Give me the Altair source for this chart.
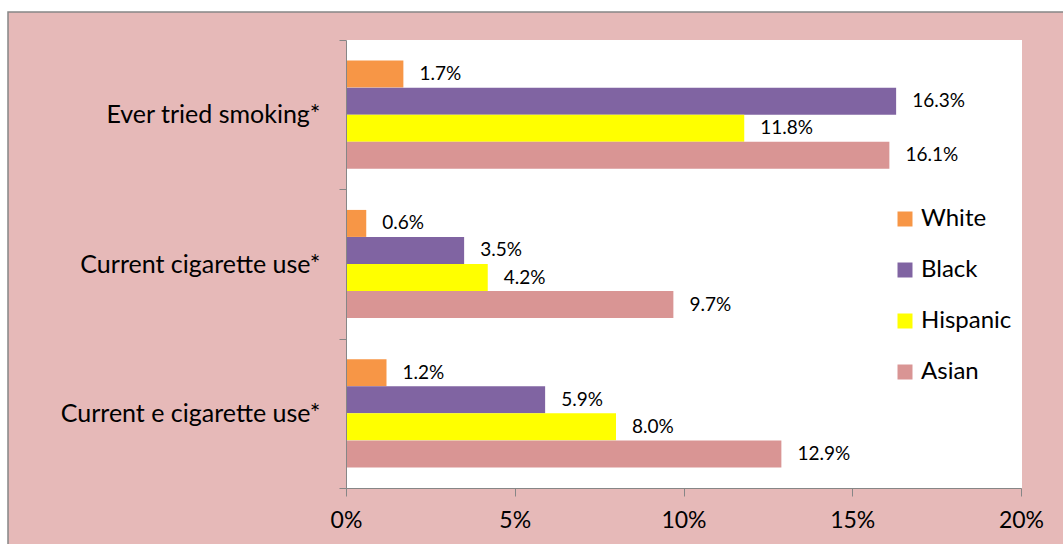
import altair as alt
import pandas as pd

measures = ["Ever tried smoking*", "Current cigarette use*", "Current e cigarette use*"]
races = ["White", "Black", "Hispanic", "Asian"]
white = [0.017, 0.006, 0.012]
black = [0.163, 0.035, 0.059]
hispanic = [0.118, 0.042, 0.080]
asian = [0.161, 0.097, 0.129]
colors = ["#F79646", "#8064A2", "#FFFF00", "#D99594"]
x_ticks = [0, 0.05, 0.10, 0.15, 0.20]

rows = []
for i, m in enumerate(measures):
    for r, vals in zip(races, [white, black, hispanic, asian]):
        rows.append({"measure": m, "race": r, "value": vals[i]})
df = pd.DataFrame(rows)

W, H = 675, 448
FONT = "Lato"
one = pd.DataFrame({"a": [0]})

frame = alt.Chart(one).mark_rect(fill="#E6B9B8", stroke="#878787", strokeWidth=1.5).encode(
    x=alt.value(-338), x2=alt.value(W + 200), y=alt.value(-28), y2=alt.value(H + 200)
)
plotbg = alt.Chart(one).mark_rect(fill="white").encode(
    x=alt.value(0), x2=alt.value(W + 1), y=alt.value(0), y2=alt.value(H)
)

y_enc = alt.Y(
    "measure:N", sort=measures,
    scale=alt.Scale(paddingInner=0, paddingOuter=0),
    axis=alt.Axis(title=None, tickBand="extent", tickSize=7, tickColor="#868686",
                  domainColor="#868686", labelFontSize=25, labelColor="black",
                  labelPadding=19, labelFont=FONT, labelLimit=400, zindex=1),
)
x_enc = alt.X(
    "value:Q", scale=alt.Scale(domain=[0, 0.2], nice=False),
    axis=alt.Axis(title=None, values=x_ticks, format=".0%", tickSize=8,
                  tickColor="#868686", domainColor="#868686", labelFontSize=23,
                  labelColor="black", labelPadding=13, labelFont=FONT, labelFlush=False,
                  grid=False, zindex=1),
)
yoff = alt.YOffset("race:N", sort=races, scale=alt.Scale(paddingInner=0, paddingOuter=0.76))

bars = alt.Chart(df).mark_bar(size=27).encode(
    x=x_enc, y=y_enc, yOffset=yoff,
    color=alt.Color("race:N", sort=races, scale=alt.Scale(domain=races, range=colors),
                    legend=alt.Legend(title=None, orient="none", legendX=547, legendY=167,
                                      symbolType="square", symbolSize=225, symbolStrokeWidth=0,
                                      labelFontSize=24, labelFont=FONT, labelColor="black",
                                      labelOffset=4, rowPadding=27, padding=0, zindex=1)),
)
labels = alt.Chart(df).mark_text(align="left", baseline="middle", dx=16, fontSize=19,
                                 font=FONT, color="black").encode(
    x="value:Q", y=alt.Y("measure:N", sort=measures), yOffset=alt.YOffset("race:N", sort=races),
    text=alt.Text("value:Q", format=".1%"),
)

chart = alt.layer(frame, plotbg, bars, labels).properties(
    width=W, height=H,
    autosize=alt.AutoSizeParams(type="none"),
    padding={"left": 346, "top": 40, "right": 1063 - 346 - W, "bottom": 544 - 40 - H},
    background="white",
).configure_view(stroke=None)

chart.save("out.html", embed_options={"renderer": "svg", "actions": False})
